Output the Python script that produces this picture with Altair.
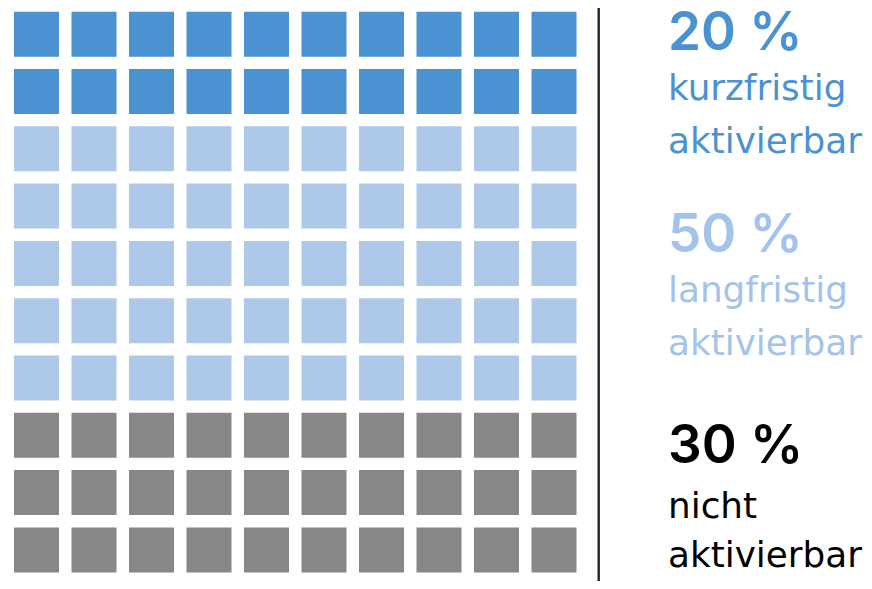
import altair as alt
import pandas as pd

# ---- data ----
categories = ["kurzfristig aktivierbar", "langfristig aktivierbar", "nicht aktivierbar"]
shares = [20, 50, 30]               # percent -> number of squares out of 100
pct_labels = ["20\u2005%", "50\u2005%", "30\u2005%"]
line1 = ["kurzfristig", "langfristig", "nicht"]
line2 = ["aktivierbar", "aktivierbar", "aktivierbar"]
colors = ["#4a92d1", "#aec8ea", "#878787"]
text_colors = ["#4a92d1", "#a3c3ea", "#000000"]

n_cols = 10
cells = []
idx = 0
for cat, s in zip(categories, shares):
    for _ in range(s):
        cells.append({"col": idx % n_cols, "row": idx // n_cols, "cat": cat})
        idx += 1
df = pd.DataFrame(cells)

W, H = 856, 573

x_scale = alt.Scale(domain=[0, 9], range=[28.5, 28.5 + 9 * 57.5])
y_scale = alt.Scale(domain=[0, 9], range=[26.2, 26.2 + 9 * 57.3])

squares = alt.Chart(df).mark_square(size=45 * 45, opacity=1).encode(
    x=alt.X("col:Q", scale=x_scale, axis=None),
    y=alt.Y("row:Q", scale=y_scale, axis=None),
    color=alt.Color("cat:N", scale=alt.Scale(domain=categories, range=colors), legend=None),
)

rule = alt.Chart(pd.DataFrame({"a": [0]})).mark_rule(color="#2b2b2b", strokeWidth=2.5).encode(
    x=alt.value(590.7), y=alt.value(0), y2=alt.value(H)
)

num_y = [42, 244, 455]
l1_y = [92, 294, 510]
l2_y = [145, 347, 559]

layers = [squares, rule]
tx = 660
for i in range(3):
    d = pd.DataFrame({"t": [pct_labels[i]]})
    layers.append(
        alt.Chart(d).mark_text(
            align="left", baseline="alphabetic", font="Inter", fontSize=53,
            fontWeight=600, color=text_colors[i]
        ).encode(text="t:N", x=alt.value(tx), y=alt.value(num_y[i]))
    )
    d1 = pd.DataFrame({"t": [line1[i]]})
    layers.append(
        alt.Chart(d1).mark_text(
            align="left", baseline="alphabetic", font="DejaVu Sans", fontSize=35.8,
            color=text_colors[i]
        ).encode(text="t:N", x=alt.value(tx), y=alt.value(l1_y[i]))
    )
    d2 = pd.DataFrame({"t": [line2[i]]})
    layers.append(
        alt.Chart(d2).mark_text(
            align="left", baseline="alphabetic", font="DejaVu Sans", fontSize=35.8,
            color=text_colors[i]
        ).encode(text="t:N", x=alt.value(tx), y=alt.value(l2_y[i]))
    )

chart = alt.layer(*layers).properties(
    width=W, height=H, autosize=alt.AutoSizeParams(type="none"), padding=0
).configure_view(stroke=None)

chart.save("out.html", embed_options={"renderer": "svg", "actions": False})
